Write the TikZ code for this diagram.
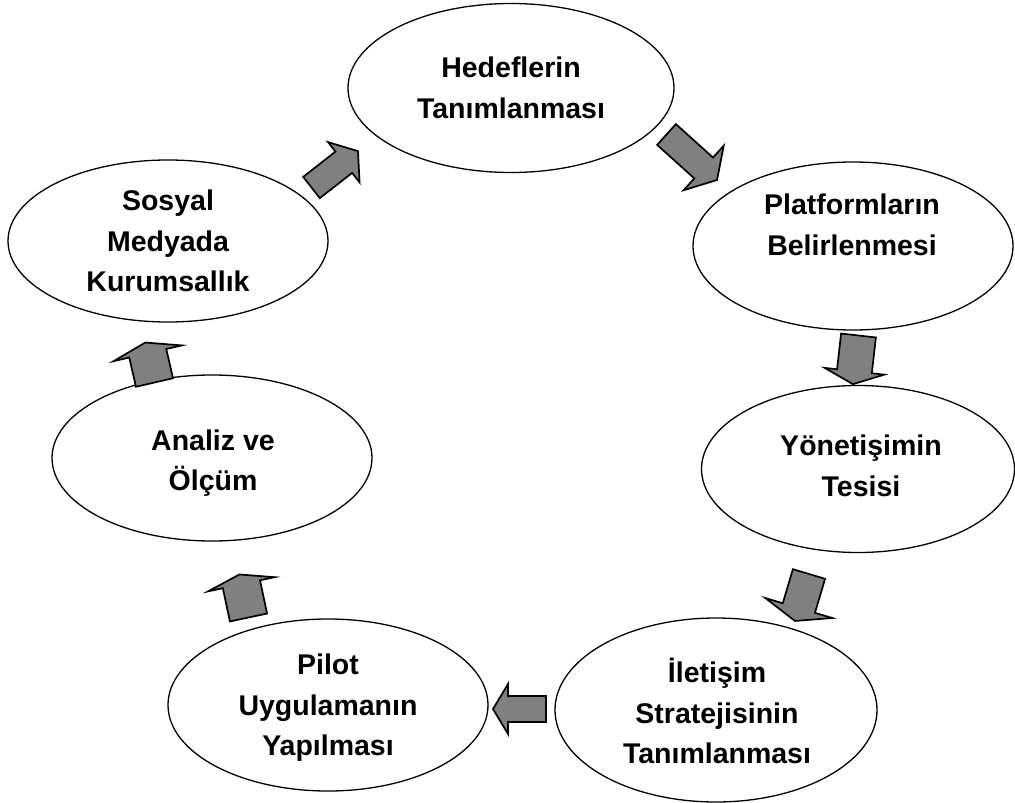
\documentclass[tikz,border=0pt]{standalone}
\usepackage{fontspec}
\setmainfont{Liberation Sans}
\usetikzlibrary{shapes.geometric}

\tikzset{
  stage/.style={draw=black, line width=1.3pt, fill=white, ellipse, inner sep=0pt},
  stagetext/.style={font=\bfseries\fontsize{28.5}{40.5}\selectfont, align=center, inner sep=0pt},
  arrowbody/.style={fill=black!50, draw=black, line width=1.7pt, line join=miter},
  % block arrow pointing along +x: length, shaft half-width, head half-width, head length
  pics/blockarrow/.style n args={4}{code={
    \filldraw[arrowbody] (0,-#2) -- ({#1-#4},-#2) -- ({#1-#4},-#3) -- (#1,0)
      -- ({#1-#4},#3) -- ({#1-#4},#2) -- (0,#2) -- cycle;
  }}
}

\begin{document}
\begin{tikzpicture}[x=1pt, y=-1pt]
\useasboundingbox (0,0) rectangle (1015,803);

% stages of the cycle
\node[stage, minimum width=326pt, minimum height=169pt] (s1) at (511,88)  {};
\node[stage, minimum width=320pt, minimum height=168pt] (s2) at (853,246) {};
\node[stage, minimum width=313pt, minimum height=167pt] (s3) at (858,469) {};
\node[stage, minimum width=322pt, minimum height=184pt] (s4) at (716,710) {};
\node[stage, minimum width=320pt, minimum height=172pt] (s5) at (328,705) {};
\node[stage, minimum width=320pt, minimum height=166pt] (s6) at (212,458) {};
\node[stage, minimum width=320pt, minimum height=162pt] (s7) at (168,241) {};

% stage labels
\node[stagetext] (t1) at (511,88)  {Hedeflerin\\Tanımlanması};
\node[stagetext] (t2) at (852,225) {Platformların\\Belirlenmesi};
\node[stagetext] (t3) at (861,466) {Yönetişimin\\Tesisi};
\node[stagetext] (t4) at (717,711) {İletişim\\Stratejisinin\\Tanımlanması};
\node[stagetext] (t5) at (328,708) {Pilot\\Uygulamanın\\Yapılması};
\node[stagetext] (t6) at (213,463) {Analiz ve\\Ölçüm};
\node[stagetext] (t7) at (168,241) {Sosyal\\Medyada\\Kurumsallık};

% block arrows between consecutive stages
\pic[rotate=-42]    at (666.5,134.5) {blockarrow={68}{14}{30}{18}};
\pic[rotate=-96.5]  at (858.5,335.5) {blockarrow={49}{17.5}{30}{13}};
\pic[rotate=-106.6] at (809,574)     {blockarrow={49}{16.8}{35}{13.5}};
\pic[rotate=180]    at (546,709)     {blockarrow={53}{13}{25}{15}};
\pic[rotate=102]    at (248.5,617.5) {blockarrow={44}{19}{34}{10}};
\pic[rotate=103]    at (154.5,382.5) {blockarrow={41}{19}{35}{11}};
\pic[rotate=38]     at (311.5,187.5) {blockarrow={59}{13.5}{25.6}{18}};
\end{tikzpicture}
\end{document}
